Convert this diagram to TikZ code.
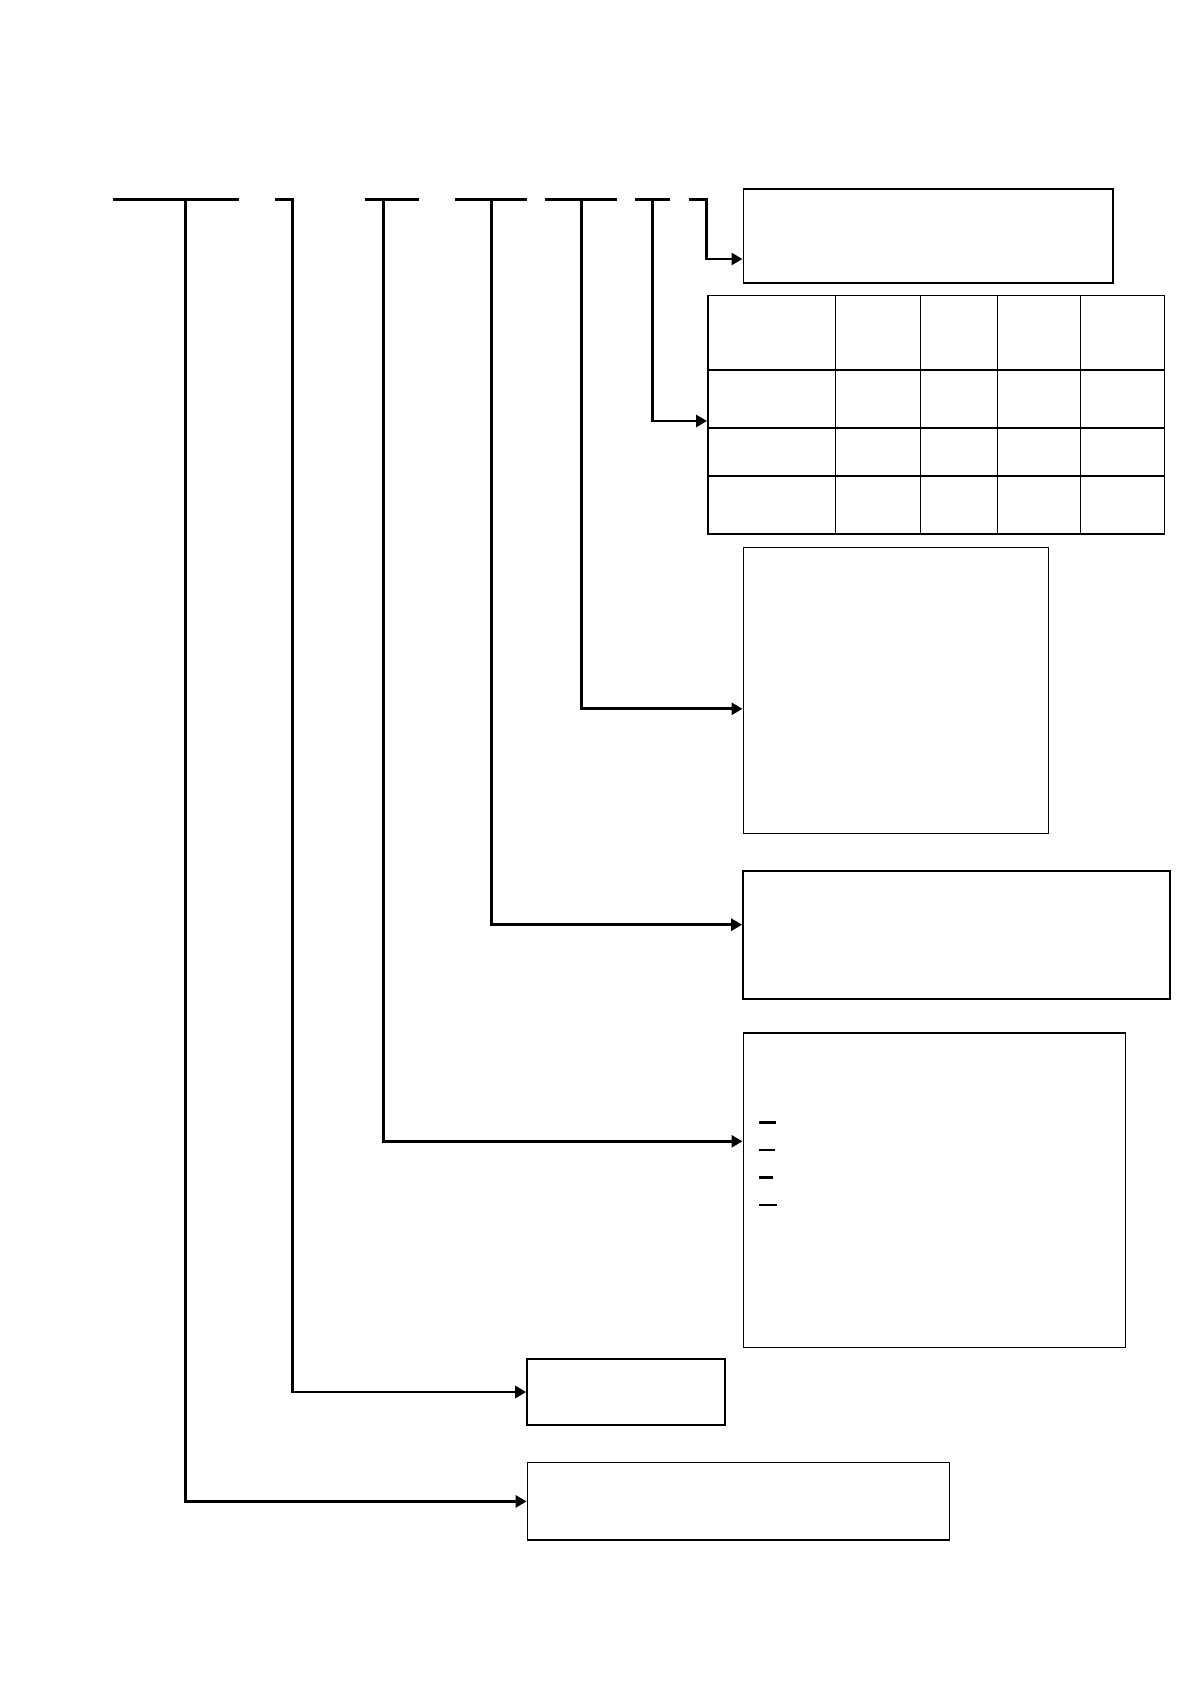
\documentclass[tikz,border=0pt]{standalone}
\usetikzlibrary{arrows.meta,fit}
\begin{document}
\begin{tikzpicture}[x=0.5pt,y=-0.5pt,
  box/.style={draw, line width=0.7pt, inner sep=0pt},
  boxthick/.style={box, line width=1.1pt},
  conn/.style={line width=1.4pt},
  arr/.style={conn, -{Triangle[length=5.5pt,width=6pt]}},
  gridline/.style={line width=0.7pt},
  dashmark/.style={line width=1.2pt}]
\fill[white] (0,0) rectangle (1190,1684);
\useasboundingbox (0,0) rectangle (1190,1684);

% boxes
\node[box, fit={(743.2,189) (1112.8,283)}] (b1) {};
\node[box, fit={(707.8,295.4) (1164.4,534)}] (tbl) {};
\node[box, fit={(743.2,547.7) (1048.5,833.6)}] (b3) {};
\node[boxthick, fit={(743.2,870.8) (1170,999)}] (b4) {};
\node[box, fit={(743.2,1033) (1125.6,1347.5)}] (b5) {};
\node[boxthick, fit={(527.3,1359) (725.2,1425)}] (b6) {};
\node[box, fit={(527.3,1462.7) (949.3,1540.1)}] (b7) {};

% table grid
\foreach \n/\x in {k1/835.6,k2/920.4,k3/997.7,k4/1080.4}{
  \coordinate (\n) at (\x,0);
  \draw[gridline] (\n |- tbl.north) -- (\n |- tbl.south);
}
\foreach \n/\y in {r1/370,r2/428,r3/476}{
  \coordinate (\n) at (0,\y);
  \draw[gridline] (\n -| tbl.west) -- (\n -| tbl.east);
}

% arrow heights
\coordinate (a1) at (0,259);
\coordinate (a2) at (0,421);
\coordinate (a3) at (0,708.8);
\coordinate (a4) at (0,924.7);
\coordinate (a5) at (0,1141.3);

% top line segments and branch points
\coordinate (s1a) at (113.3,199.3); \coordinate (s1b) at (238.7,199.3); \coordinate (c1) at (185.5,199.3);
\coordinate (s2a) at (275.3,199.3); \coordinate (c2) at (292.8,199.3);
\coordinate (s3a) at (365,199.3);   \coordinate (s3b) at (418.7,199.3); \coordinate (c3) at (383.3,199.3);
\coordinate (s4a) at (455.3,199.3); \coordinate (s4b) at (526.7,199.3); \coordinate (c4) at (491.7,199.3);
\coordinate (s5a) at (545.3,199.3); \coordinate (s5b) at (616.7,199.3); \coordinate (c5) at (581.7,199.3);
\coordinate (s6a) at (635,199.3);   \coordinate (s6b) at (670,199.3);   \coordinate (c6) at (652.7,199.3);
\coordinate (s7a) at (689.3,199.3); \coordinate (c7) at (706.5,199.3);

\draw[conn] (s1a) -- (s1b);
\draw[conn] (s3a) -- (s3b);
\draw[conn] (s4a) -- (s4b);
\draw[conn] (s5a) -- (s5b);
\draw[conn] (s6a) -- (s6b);

% connectors
\draw[arr] (c1) |- (b7.west);
\draw[arr] (s2a) -- (c2) |- (b6.west);
\draw[arr] (c3) |- (a5 -| b5.west);
\draw[arr] (c4) |- (a4 -| b4.west);
\draw[arr] (c5) |- (a3 -| b3.west);
\draw[arr] (c6) |- (a2 -| tbl.west);
\draw[arr] (s7a) -- (c7) |- (a1 -| b1.west);

% dash marks in box b5
\draw[dashmark, line width=1.4pt] (759,1122.3) -- (776,1122.3);
\draw[dashmark, line width=1.0pt] (759,1150) -- (775,1150);
\draw[dashmark, line width=1.4pt] (759,1177.3) -- (773,1177.3);
\draw[dashmark, line width=1.1pt] (759,1205) -- (777,1205);
\end{tikzpicture}
\end{document}
